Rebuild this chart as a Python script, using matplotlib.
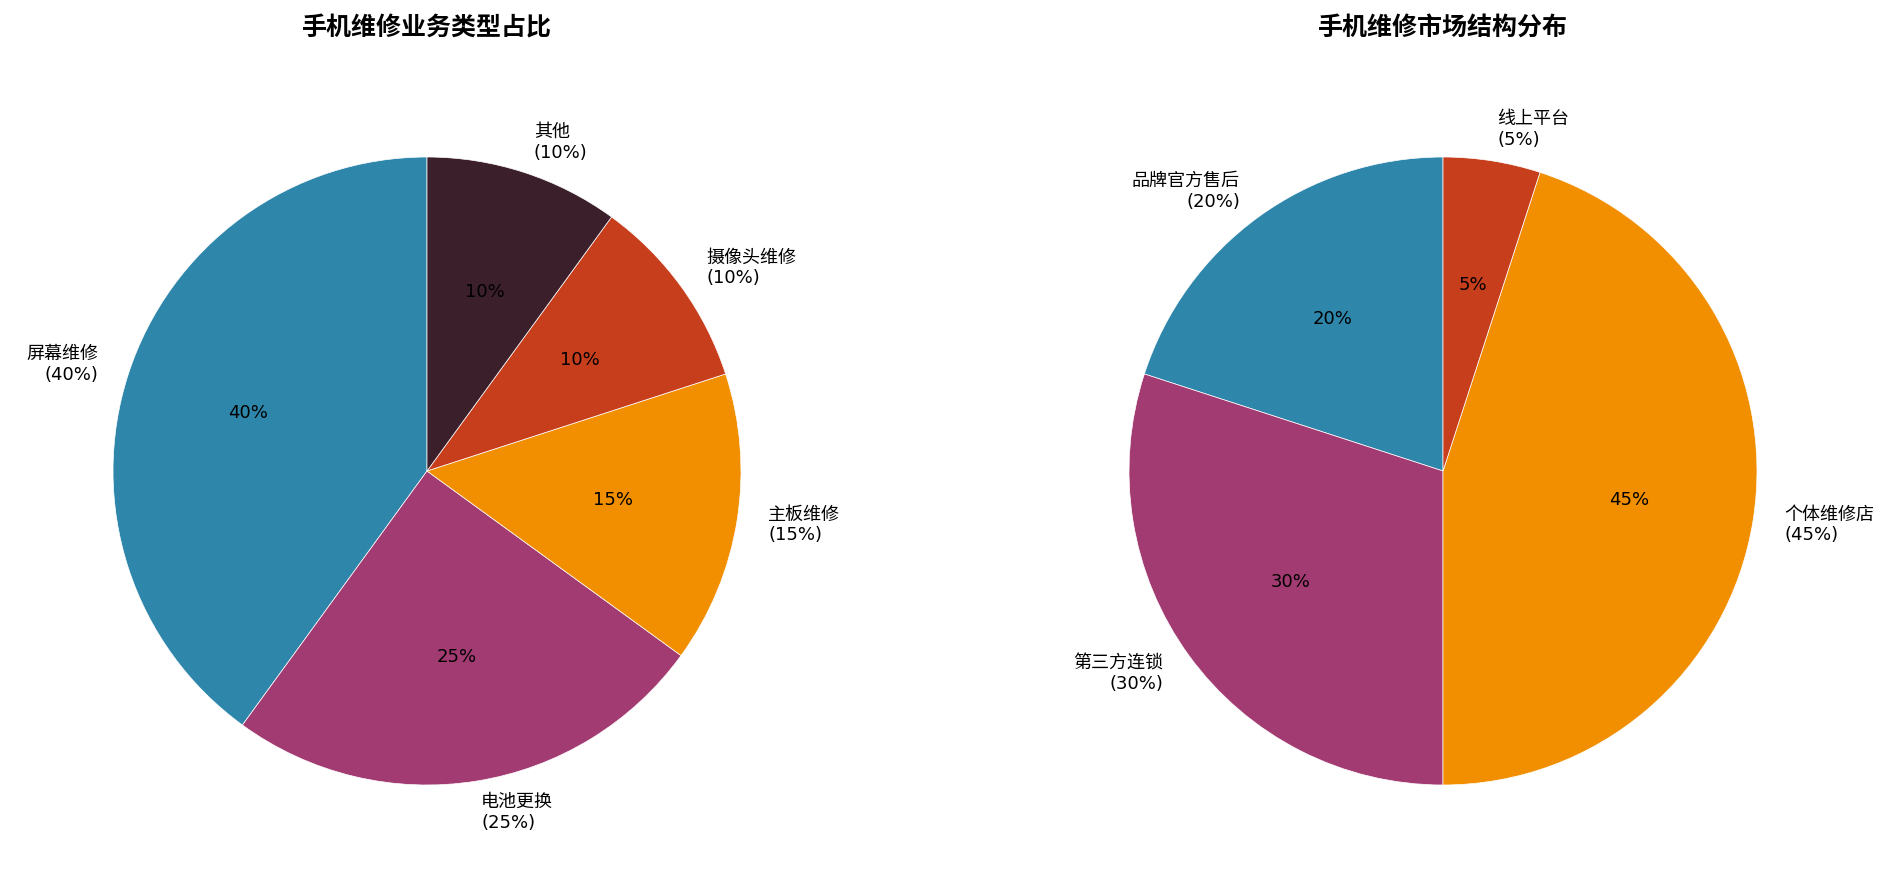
import matplotlib.pyplot as plt

plt.rcParams['font.family'] = ['DejaVu Sans', 'Noto Sans CJK SC']

colors = ['#2E86AB', '#A23B72', '#F18F01', '#C73E1D', '#3B1F2B']

service_types = ['屏幕维修', '电池更换', '主板维修', '摄像头维修', '其他']
service_share = [40, 25, 15, 10, 10]

market_types = ['品牌官方售后', '第三方连锁', '个体维修店', '线上平台']
market_share = [20, 30, 45, 5]

W, H = 1904, 880
fig = plt.figure(figsize=(W / 100, H / 100), dpi=100)

radius_px = 314
span = 1.6  # axes half-width in data units
size_px = 2 * radius_px * span

for cx, names, vals, title in [
        (427, service_types, service_share, '手机维修业务类型占比'),
        (1443, market_types, market_share, '手机维修市场结构分布')]:
    cy = 471
    ax = fig.add_axes([(cx - size_px / 2) / W, (H - cy - size_px / 2) / H,
                       size_px / W, size_px / H])
    labels = ['{}\n({}%)'.format(n, v) for n, v in zip(names, vals)]
    ax.pie(vals, labels=labels, colors=colors[:len(vals)], autopct='%1.0f%%',
           startangle=90, textprops={'fontsize': 13},
           wedgeprops={'edgecolor': 'white', 'linewidth': 0.5})
    ax.set_xlim(-span, span)
    ax.set_ylim(-span, span)
    ax.set_aspect('equal')
    ax.axis('off')
    fig.text(cx / W, 1 - 28 / H, title, ha='center', va='center',
             fontsize=18, fontweight='bold', family=['Noto Sans CJK SC'])

plt.savefig('out.png')
